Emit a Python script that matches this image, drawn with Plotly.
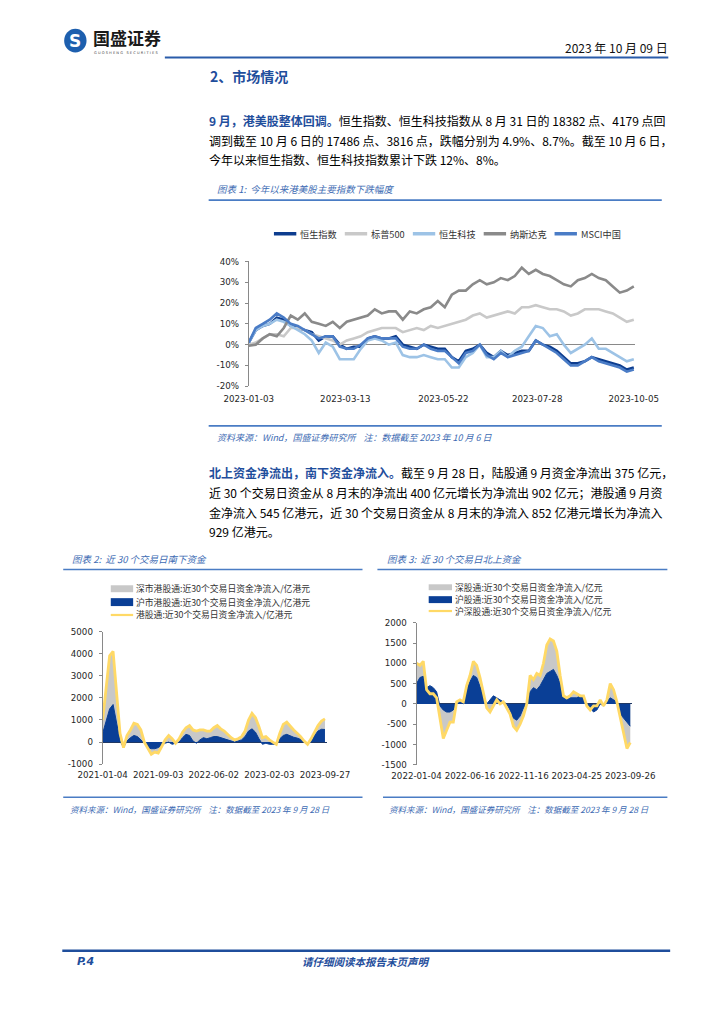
import plotly.graph_objects as go
import pandas as pd

W, H = 724, 1024
def px(x): return x / W
def py(y): return 1 - y / H

CJK = "Noto Sans CJK SC"
NUM = "DejaVu Sans"
TXT_BLUE = "#1f4e9c"
CAP_BLUE = "#3d6bb3"
AXIS_GREY = "#898989"

# ---------------- Chart 1 data (% change since 2023-01-03) ----------------
c1_dates = pd.date_range("2023-01-03", periods=56, freq="5D")
c1_names = ["恒生指数", "标普500", "恒生科技", "纳斯达克", "MSCI中国"]
hsi = [1, 7, 9, 10, 13, 12, 9, 8, 7, 6, 2, 4, 4, 0, -2, -1, -1, 3, 4, 3,
       3, 4, 0, -1, -2, 0, -1, -2, -2, -6, -8, -3, -2, 0, -4, -6, -3, -5, -4, -3,
       -3, 2, 0, -1, -3, -6, -9, -9, -8, -6, -7, -8, -9, -10, -12, -11]
spx = [0, 1, 3, 5, 5, 4, 8, 8, 7, 5, 4, 3, 2, 0, 2, 3, 4, 6, 7, 8,
       8, 8, 6, 7, 8, 7, 9, 8, 9, 10, 11, 12, 14, 15, 13, 14, 15, 16, 15, 18,
       18, 19, 18, 17, 17, 16, 14, 15, 17, 17, 17, 16, 15, 13, 11, 12]
hstech = [1, 7, 9, 10, 12, 11, 9, 7, 5, 2, -4, 1, -1, -7, -7, -7, -2, 2, 3, 2,
          0, 1, -5, -6, -6, -5, -6, -7, -7, -11, -11, -6, -4, 0, -6, -6, -3, -6, -3, -1,
          4, 9, 8, 4, 5, 0, -4, -2, 0, 3, -2, -2, -4, -6, -8, -7]
nasdaq = [-0.5, 0, 3, 5, 4, 8, 14, 12, 15, 11, 10, 9, 11, 8, 11, 12, 13, 14, 17, 15,
          16, 16, 12, 16, 15, 17, 18, 21, 18, 24, 26, 26, 29, 31, 29, 30, 32, 31, 33, 37,
          34, 36, 34, 33, 31, 29, 28, 31, 32, 34, 32, 31, 28, 25, 26, 28]
msci = [1, 8, 10, 12, 15, 13, 10, 9, 7, 5, 3, 4, 4, -1, -2, -2, 0, 3, 4, 3,
        3, 3, -1, -2, -2, 0, -2, -3, -3, -6, -9, -4, -3, 0, -5, -7, -4, -6, -5, -4,
        -3, 2, 0, -2, -4, -7, -10, -10, -8, -6, -8, -9, -10, -11, -13, -12]
c1_colors = ["#0d3d8f", "#c9c9c9", "#9dc3e6", "#8a8a8a", "#4a7cc6"]
c1_ticklabels = ["2023-01-03", "2023-03-13", "2023-05-22", "2023-07-28", "2023-10-05"]
c1_yticks = [-20, -10, 0, 10, 20, 30, 40]

# ---------------- Chart 2 data (southbound, 亿港元) ----------------
c2_names = ["深市港股通:近30个交易日资金净流入/亿港元",
            "沪市港股通:近30个交易日资金净流入/亿港元",
            "港股通:近30个交易日资金净流入/亿港元"]
c2_ticklabels = ["2021-01-04", "2021-09-03", "2022-06-02", "2023-02-03", "2023-09-27"]
c2_label_pos = [0, 16, 32, 48, 64]
south_sh = [400, 1000, 1500, 1700, 900, 50, -250, 50, 200, 300,
            250, 100, -50, -250, -300, -300, -250, -150, -50, 0,
            -100, -50, 0, 200, 350, 300, 50, -50, 100, 200,
            150, 200, 250, 250, 200, 150, 100, 50, 0, 50,
            100, 250, 500, 600, 450, 150, -100, -50, -100, -100,
            -100, 150, 300, 350, 280, 220, 180, 120, 0, -50,
            0, 300, 500, 580, 570]
south_total = [1000, 2500, 3900, 4100, 2200, 400, -250, 300, 550, 850,
               800, 550, 0, -300, -550, -450, -500, -200, 100, 300,
               150, -50, 150, 450, 650, 750, 550, 500, 550, 550,
               500, 500, 650, 750, 600, 500, 350, 200, 100, 150,
               250, 500, 1000, 1300, 1100, 700, 200, 250, 100, 0,
               -100, 400, 800, 900, 700, 550, 400, 250, 50, -100,
               150, 450, 750, 950, 1050]
c2_yticks = [-1000, 0, 1000, 2000, 3000, 4000, 5000]

# ---------------- Chart 3 data (northbound, 亿元) ----------------
c3_names = ["深股通:近30个交易日资金净流入/亿元",
            "沪股通:近30个交易日资金净流入/亿元",
            "沪深股通:近30个交易日资金净流入/亿元"]
c3_ticklabels = ["2022-01-04", "2022-06-16", "2022-11-16", "2023-04-25", "2023-09-26"]
c3_label_pos = [0, 16, 32, 48, 64]
north_sh = [500, 650, 680, 400, 450, 400, 300, -50, -150, -200,
            -200, -150, 0, 50, 0, 350, 550, 700, 650, 400,
            200, 0, 100, 200, 150, 100, 50, 0, -150, -350,
            -400, -300, -100, 0, 300, 400, 350, 450, 600, 750,
            800, 850, 700, 500, 150, 100, 150, 150, 150, 200,
            150, 0, -100, -200, -150, 0, -50, 50, 150, 100,
            50, -250, -350, -450, -550]
north_total = [1000, 950, 1050, 350, 250, 250, 150, -400, -850, -650,
               -450, -450, 50, 100, 50, 450, 700, 1050, 950, 650,
               250, -100, -200, -50, 100, 0, 50, -100, -250, -550,
               -650, -500, -300, 0, 700, 600, 750, 700, 1000, 1450,
               1600, 1550, 1300, 700, 200, 150, 200, 300, 250, 200,
               200, -50, -150, -50, -50, 100, -50, 100, 500, 350,
               50, -350, -700, -1100, -950]
c3_yticks = [-1500, -1000, -500, 0, 500, 1000, 1500, 2000]

GREY_FILL = "#c8c8c8"
NAVY = "#0a3f96"
YELLOW = "#ffd966"

fig = go.Figure()

for name, vals, col in zip(c1_names, [hsi, spx, hstech, nasdaq, msci], c1_colors):
    fig.add_trace(go.Scatter(x=c1_dates, y=vals, name=name, mode="lines",
                             line=dict(color=col, width=2.6), xaxis="x", yaxis="y",
                             showlegend=False))

x2 = list(range(len(south_total)))
fig.add_trace(go.Scatter(x=x2, y=south_total, name=c2_names[0], mode="lines", fill="tozeroy",
                         fillcolor=GREY_FILL, line=dict(width=0, color=GREY_FILL),
                         xaxis="x2", yaxis="y2", showlegend=False))
fig.add_trace(go.Scatter(x=x2, y=south_sh, name=c2_names[1], mode="lines", fill="tozeroy",
                         fillcolor=NAVY, line=dict(width=1, color=NAVY),
                         xaxis="x2", yaxis="y2", showlegend=False))
fig.add_trace(go.Scatter(x=x2, y=south_total, name=c2_names[2], mode="lines",
                         line=dict(width=2.8, color=YELLOW),
                         xaxis="x2", yaxis="y2", showlegend=False))

x3 = list(range(len(north_total)))
fig.add_trace(go.Scatter(x=x3, y=north_total, name=c3_names[0], mode="lines", fill="tozeroy",
                         fillcolor=GREY_FILL, line=dict(width=0, color=GREY_FILL),
                         xaxis="x3", yaxis="y3", showlegend=False))
fig.add_trace(go.Scatter(x=x3, y=north_sh, name=c3_names[1], mode="lines", fill="tozeroy",
                         fillcolor=NAVY, line=dict(width=1, color=NAVY),
                         xaxis="x3", yaxis="y3", showlegend=False))
fig.add_trace(go.Scatter(x=x3, y=north_total, name=c3_names[2], mode="lines",
                         line=dict(width=2.8, color=YELLOW),
                         xaxis="x3", yaxis="y3", showlegend=False))

tickfont = dict(family=NUM, size=8.7, color="#262626")

layout_axes = dict(
    xaxis=dict(domain=[px(240), px(654.5)], range=["2023-01-03", "2023-10-06"], type="date",
               tickvals=c1_ticklabels, ticktext=c1_ticklabels, showgrid=False, showline=False,
               ticks="", zeroline=False, tickfont=tickfont, anchor="y", ticklabelstandoff=6),
    yaxis=dict(domain=[py(385), py(259)], range=[-20, 40], tickvals=c1_yticks,
               ticktext=[f"{v}%" for v in c1_yticks], showgrid=False, showline=True,
               linecolor=AXIS_GREY, linewidth=1, ticks="outside", ticklen=3, tickcolor=AXIS_GREY,
               zeroline=True, zerolinecolor=AXIS_GREY, zerolinewidth=1, tickfont=tickfont,
               anchor="x", ticklabelstandoff=4),
    xaxis2=dict(domain=[px(83.3), px(323.6)], range=[0, 64.5], tickvals=c2_label_pos,
                ticktext=c2_ticklabels, showgrid=False, showline=False, ticks="", zeroline=False,
                tickfont=tickfont, anchor="y2", ticklabelstandoff=4),
    yaxis2=dict(domain=[py(766.7), py(632.7)], range=[-1000, 5000], tickvals=c2_yticks,
                ticktext=[str(v) for v in c2_yticks], showgrid=False, showline=True,
                linecolor=AXIS_GREY, linewidth=1, ticks="outside", ticklen=3, tickcolor=AXIS_GREY,
                zeroline=True, zerolinecolor="#203864", zerolinewidth=1, tickfont=tickfont,
                anchor="x2", ticklabelstandoff=4),
    xaxis3=dict(domain=[px(420), px(651)], range=[0, 64.5], tickvals=c3_label_pos,
                ticktext=c3_ticklabels, showgrid=False, showline=False, ticks="", zeroline=False,
                tickfont=tickfont, anchor="y3", ticklabelstandoff=4),
    yaxis3=dict(domain=[py(767.3), py(623.8)], range=[-1500, 2000], tickvals=c3_yticks,
                ticktext=[str(v) for v in c3_yticks], showgrid=False, showline=True,
                linecolor=AXIS_GREY, linewidth=1, ticks="outside", ticklen=3, tickcolor=AXIS_GREY,
                zeroline=True, zerolinecolor="#203864", zerolinewidth=1, tickfont=tickfont,
                anchor="x3", ticklabelstandoff=4),
)

annotations = []
def add_text(x, y, text, size, color="#000000", family=CJK, xanchor="left", bold=False, italic=False):
    annotations.append(dict(x=px(x), y=py(y), xref="paper", yref="paper", text=text,
                            showarrow=False, xanchor=xanchor, yanchor="middle",
                            font=dict(family=family, size=size, color=color,
                                      weight="bold" if bold else "normal",
                                      style="italic" if italic else "normal")))

shapes = []
def hline(x0, x1, y, color, width):
    shapes.append(dict(type="line", xref="paper", yref="paper", x0=px(x0), x1=px(x1),
                       y0=py(y), y1=py(y), line=dict(color=color, width=width)))
def rect(x0, x1, y0, y1, color):
    shapes.append(dict(type="rect", xref="paper", yref="paper", x0=px(x0), x1=px(x1),
                       y0=py(y1), y1=py(y0), fillcolor=color, line=dict(width=0)))

# ---- header
shapes.append(dict(type="circle", xref="paper", yref="paper", x0=px(42), x1=px(66),
                   y0=py(48), y1=py(24), fillcolor="#1d5fae", line=dict(width=0)))
add_text(54, 36.5, "<b>S</b>", 17, color="#ffffff", family=NUM, xanchor="center")
add_text(71, 33, "国盛证券", 17, color="#1a1a1a", bold=True)
add_text(72, 48, "G U O S H E N G   S E C U R I T I E S", 3.6, color="#444444", family=NUM)
add_text(692, 43, "2023 年 10 月 09 日", 12, color="#111111", xanchor="right")
hline(150, 690, 53, "#2a5caa", 2.2)

# ---- section 2 title & paragraph 1
add_text(196, 72, "2、市场情况", 14, color=TXT_BLUE, bold=True)
BL = f"<span style='color:{TXT_BLUE}'><b>"
EB = "</b></span>"
para1 = [BL + "9 月，港美股整体回调。" + EB + "恒生指数、恒生科技指数从 8 月 31 日的 18382 点、4179 点回",
         "调到截至 10 月 6 日的 17486 点、3816 点，跌幅分别为 4.9%、8.7%。截至 10 月 6 日，",
         "今年以来恒生指数、恒生科技指数累计下跌 12%、8%。"]
for i, line in enumerate(para1):
    add_text(195, 117 + 19.5 * i, line, 12.0)

# ---- figure 1 frame
add_text(204, 186, "图表 1:  今年以来港美股主要指数下跌幅度", 9.5, color=CAP_BLUE, italic=True)
hline(197, 683, 197, "#4a7cc4", 1.6)
hline(197, 683, 425, "#4a7cc4", 1.6)
add_text(204, 437, "资料来源：Wind，国盛证券研究所    注：数据截至 2023 年 10 月 6 日", 9,
         color=CAP_BLUE, italic=True)

leg1_x = [267, 343, 416, 492, 568]
for xs, name, col in zip(leg1_x, c1_names, c1_colors):
    hline(xs, xs + 24, 231, col, 3.5)
    add_text(xs + 26, 231, name, 9.2, color="#333333")

# ---- paragraph 2
para2 = [BL + "北上资金净流出，南下资金净流入。" + EB + "截至 9 月 28 日，陆股通 9 月资金净流出 375 亿元，",
         "近 30 个交易日资金从 8 月末的净流出 400 亿元增长为净流出 902 亿元；港股通 9 月资",
         "金净流入 545 亿港元，近 30 个交易日资金从 8 月末的净流入 852 亿港元增长为净流入",
         "929 亿港元。"]
for i, line in enumerate(para2):
    add_text(195, 472 + 20 * i, line, 12.0)

# ---- figure 2 frame
add_text(48, 559, "图表 2:  近 30 个交易日南下资金", 9.5, color=CAP_BLUE, italic=True)
hline(41, 362, 570, "#4a7cc4", 1.6)
hline(41, 362, 800, "#4a7cc4", 1.6)
add_text(46, 812, "资料来源：Wind，国盛证券研究所    注：数据截至 2023 年 9 月 28 日", 8.5,
         color=CAP_BLUE, italic=True)
rect(92, 116, 586, 593, GREY_FILL)
rect(92, 116, 599, 607, NAVY)
hline(92, 116, 616, YELLOW, 2.2)
for yy, name in zip([589, 603, 616], c2_names):
    add_text(117, yy, name, 8.8, color="#333333")

# ---- figure 3 frame
add_text(386, 559, "图表 3:  近 30 个交易日北上资金", 9.5, color=CAP_BLUE, italic=True)
hline(378, 689, 570, "#4a7cc4", 1.6)
hline(384, 689, 800, "#4a7cc4", 1.6)
add_text(388, 812, "资料来源：Wind，国盛证券研究所    注：数据截至 2023 年 9 月 28 日", 8.5,
         color=CAP_BLUE, italic=True)
rect(433, 458, 585, 591, GREY_FILL)
rect(433, 458, 597, 604, NAVY)
hline(433, 458, 612, YELLOW, 2.2)
for yy, name in zip([588, 600, 612], c3_names):
    add_text(459, yy, name, 8.8, color="#333333")

# ---- footer
hline(40, 692, 955, "#1f4e9c", 2.5)
add_text(54, 966, "<b>P.4</b>", 11, color=TXT_BLUE, family=NUM, italic=True)
add_text(366, 966, "请仔细阅读本报告末页声明", 10.5, color=TXT_BLUE, xanchor="center",
         bold=True, italic=True)

fig.update_layout(width=W, height=H, autosize=False, margin=dict(l=0, r=0, t=0, b=0),
                  paper_bgcolor="#ffffff", plot_bgcolor="rgba(0,0,0,0)",
                  showlegend=False, annotations=annotations, shapes=shapes, **layout_axes)

fit_js = """
document.documentElement.style.margin='0';
document.body.style.margin='0';
document.body.style.overflow='hidden';
"""
fig.write_html("out.html", config={"displayModeBar": False, "responsive": False},
               post_script=fit_js)
